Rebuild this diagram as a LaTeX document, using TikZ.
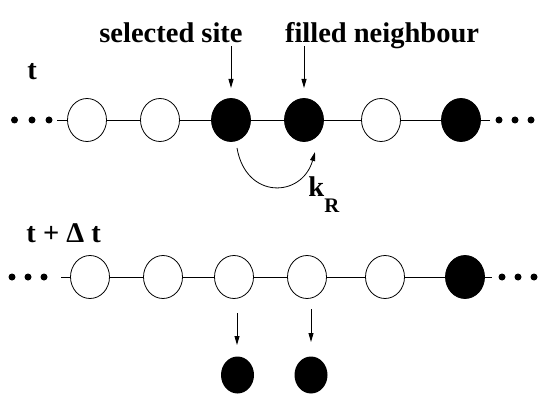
\documentclass[tikz,border=0pt]{standalone}
\usepackage{fontspec}
\setmainfont{Liberation Serif}
\usetikzlibrary{shapes.geometric,arrows.meta}
\begin{document}
\begin{tikzpicture}[x=1pt, y=-1pt, line width=0.8pt]
	\tikzset{site/.style={ellipse, draw=black, fill=white, minimum width=39pt, minimum height=43pt, inner sep=0pt}};
	\tikzset{full/.style={site, fill=black}};
	\tikzset{gone/.style={ellipse, fill=black, minimum width=33pt, minimum height=37pt, inner sep=0pt}};
	\tikzset{bead/.style={circle, fill=black, minimum size=7pt, inner sep=0pt}};
	\tikzset{lbl/.style={inner sep=0pt, font=\fontsize{28.5}{30}\selectfont\bfseries}};
	\tikzset{arr/.style={-{Triangle[length=9pt, width=5pt]}}};

	\useasboundingbox (0,0) rectangle (540,403);

	% time t
	\node[lbl, anchor=base west] (lt) at (27, 80) {t};
	\node[lbl, anchor=base] (lsel) at (171, 43) {selected site};
	\node[lbl, anchor=base] (lfill) at (382, 43) {filled neighbour};

	\node[bead] (p1) at (14.5, 120) {};
	\node[bead] (p2) at (32, 120) {};
	\node[bead] (p3) at (49, 120) {};
	\coordinate (la) at (57, 120);

	\node[site] (a1) at (87, 120) {};
	\node[site] (a2) at (160, 120) {};
	\node[full] (a3) at (231, 120) {};
	\node[full] (a4) at (304, 120) {};
	\node[site] (a5) at (381, 120) {};
	\node[full] (a6) at (461, 120) {};

	\coordinate (ra) at (490, 120);
	\node[bead] (q1) at (499, 120) {};
	\node[bead] (q2) at (515, 120) {};
	\node[bead] (q3) at (531, 120) {};

	\draw (la) -- (a1) -- (a2) -- (a3) -- (a4) -- (a5) -- (a6) -- (ra);

	\coordinate (s1) at (231, 46.5);
	\coordinate (s2) at (231, 88);
	\coordinate (f1) at (304, 46.5);
	\coordinate (f2) at (304, 88);
	\draw[arr] (s1) to (s2);
	\draw[arr] (f1) to (f2);

	\coordinate (k1) at (237, 148);
	\coordinate (k2) at (315, 152);
	\draw[arr] (k1) .. controls (246, 200) and (302, 198) .. (k2);
	\node[lbl, anchor=base west] (lk) at (308, 197) {k\raisebox{-15pt}{\fontsize{20.7}{22}\selectfont R}};

	% time t + dt
	\node[lbl, anchor=base west] (ltdt) at (26, 243) {t + Δ t};

	\node[bead] (u1) at (12, 277) {};
	\node[bead] (u2) at (28, 277) {};
	\node[bead] (u3) at (44, 277) {};
	\coordinate (lb) at (61, 277);

	\node[site] (b1) at (90, 277) {};
	\node[site] (b2) at (163, 277) {};
	\node[site] (b3) at (234, 277) {};
	\node[site] (b4) at (307, 277) {};
	\node[site] (b5) at (385, 277) {};
	\node[full] (b6) at (465, 277) {};

	\coordinate (rb) at (492, 277);
	\node[bead] (v1) at (502, 277) {};
	\node[bead] (v2) at (518, 277) {};
	\node[bead] (v3) at (534, 277) {};

	\draw (lb) -- (b1) -- (b2) -- (b3) -- (b4) -- (b5) -- (b6) -- (rb);

	\coordinate (d1) at (237, 313);
	\coordinate (d2) at (237, 345);
	\coordinate (e1) at (311, 309);
	\coordinate (e2) at (311, 342);
	\draw[arr] (d1) to (d2);
	\draw[arr] (e1) to (e2);

	\node[gone] (c1) at (237.5, 375) {};
	\node[gone] (c2) at (311, 375) {};

\end{tikzpicture}
\end{document}
